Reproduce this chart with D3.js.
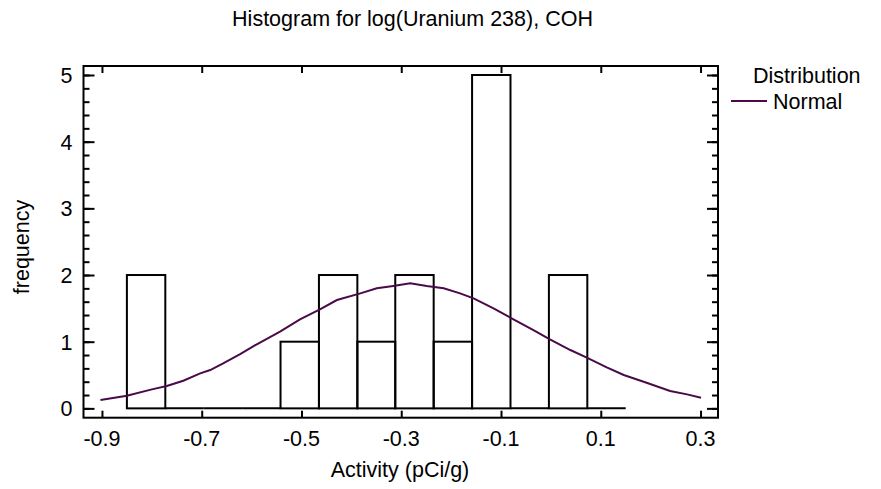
<!DOCTYPE html>
<html>
<head>
<meta charset="utf-8">
<script src="https://cdn.jsdelivr.net/npm/d3@7"></script>
<style>
  html, body { margin: 0; padding: 0; background: #fff; }
  svg { display: block; font-family: "Liberation Sans", Arial, sans-serif; }
</style>
</head>
<body>
<svg id="chart" width="881" height="489"></svg>
<script>
// ---- data ----
const binEdges = [-0.85, -0.773, -0.696, -0.619, -0.542, -0.465, -0.388, -0.312, -0.235, -0.158, -0.081, -0.004, 0.073, 0.15];
const binCounts = [2, 0, 0, 0, 1, 2, 1, 2, 1, 5, 0, 2, 0];
const curveX = [-0.903, -0.850, -0.800, -0.770, -0.737, -0.703, -0.683, -0.657, -0.623, -0.596, -0.543, -0.503, -0.463, -0.429, -0.382, -0.349, -0.316, -0.282, -0.249, -0.215, -0.182, -0.155, -0.115, -0.075, -0.035, -0.002, 0.039, 0.072, 0.112, 0.146, 0.186, 0.239, 0.273, 0.301];
const curveY = [0.125, 0.19, 0.285, 0.335, 0.415, 0.525, 0.575, 0.675, 0.815, 0.935, 1.15, 1.335, 1.485, 1.625, 1.725, 1.80, 1.835, 1.875, 1.835, 1.80, 1.725, 1.65, 1.50, 1.335, 1.175, 1.035, 0.875, 0.76, 0.615, 0.50, 0.40, 0.26, 0.21, 0.16];
const xTicks = [-0.9, -0.7, -0.5, -0.3, -0.1, 0.1, 0.3];
const yTicks = [0, 1, 2, 3, 4, 5];
const yMinorTicks = [0, 0.2, 0.4, 0.6, 0.8, 1, 1.2, 1.4, 1.6, 1.8, 2, 2.2, 2.4, 2.6, 2.8, 3, 3.2, 3.4, 3.6, 3.8, 4, 4.2, 4.4, 4.6, 4.8, 5];
const titleText = "Histogram for log(Uranium 238), COH";
const xLabel = "Activity (pCi/g)";
const yLabel = "frequency";
const legendTitle = "Distribution";
const legendItems = ["Normal"];

// ---- layout ----
const L = 83.5, R = 718, T = 66, B = 417.7;
const curveColor = "#4a0a4a";
const fontSize = 21.5;

const svg = d3.select("#chart");
const x = d3.scaleLinear().domain([-0.937, 0.335]).range([L, R]);
const y = d3.scaleLinear().domain([-0.14, 5.135]).range([B, T]);

// title
svg.append("text").attr("x", 412.5).attr("y", 26)
  .attr("text-anchor", "middle").attr("font-size", fontSize).text(titleText);

// bars
const bins = binCounts.map((c, i) => ({x0: binEdges[i], x1: binEdges[i + 1], c}));
const g = svg.append("g");
bins.forEach(b => {
  if (b.c > 0) {
    g.append("rect")
      .attr("x", x(b.x0)).attr("y", y(b.c))
      .attr("width", x(b.x1) - x(b.x0)).attr("height", y(0) - y(b.c))
      .attr("fill", "none").attr("stroke", "#000").attr("stroke-width", 2);
  } else {
    g.append("line")
      .attr("x1", x(b.x0)).attr("x2", x(b.x1))
      .attr("y1", y(0)).attr("y2", y(0))
      .attr("stroke", "#000").attr("stroke-width", 2);
  }
});

// curve
const pts = curveX.map((v, i) => [v, curveY[i]]);
svg.append("path").datum(pts)
  .attr("d", d3.line().x(d => x(d[0])).y(d => y(d[1])))
  .attr("fill", "none").attr("stroke", curveColor).attr("stroke-width", 2);

// axes (inward ticks) using d3 axes
const axB = d3.axisTop(x).tickValues(xTicks).tickSize(7).tickFormat("");
svg.append("g").attr("transform", `translate(0,${B})`).call(axB);
const axT = d3.axisBottom(x).tickValues(xTicks).tickSize(7).tickFormat("");
svg.append("g").attr("transform", `translate(0,${T})`).call(axT);
const axLmin = d3.axisRight(y).tickValues(yMinorTicks).tickSize(6).tickFormat("");
svg.append("g").attr("transform", `translate(${L},0)`).call(axLmin);
const axLmaj = d3.axisRight(y).tickValues(yTicks).tickSize(11).tickFormat("");
svg.append("g").attr("transform", `translate(${L},0)`).call(axLmaj);
const axRmin = d3.axisLeft(y).tickValues(yMinorTicks).tickSize(6).tickFormat("");
svg.append("g").attr("transform", `translate(${R},0)`).call(axRmin);
const axRmaj = d3.axisLeft(y).tickValues(yTicks).tickSize(11).tickFormat("");
svg.append("g").attr("transform", `translate(${R},0)`).call(axRmaj);
svg.selectAll(".domain").remove();
svg.selectAll(".tick line").attr("stroke", "#000").attr("stroke-width", 2);

// frame
svg.append("rect").attr("x", L).attr("y", T).attr("width", R - L).attr("height", B - T)
  .attr("fill", "none").attr("stroke", "#000").attr("stroke-width", 2);

// tick labels
svg.append("g").selectAll("text").data(xTicks).join("text")
  .attr("x", d => x(d)).attr("y", B + 28)
  .attr("text-anchor", "middle").attr("font-size", fontSize)
  .text(d => d3.format(".1f")(d).replace("−", "-"));
svg.append("g").selectAll("text").data(yTicks).join("text")
  .attr("x", L - 11).attr("y", d => y(d) + 8)
  .attr("text-anchor", "end").attr("font-size", fontSize)
  .text(d => d);

// axis titles
svg.append("text").attr("x", 400).attr("y", 477)
  .attr("text-anchor", "middle").attr("font-size", fontSize).text(xLabel);
svg.append("text").attr("transform", `translate(29,247) rotate(-90)`)
  .attr("text-anchor", "middle").attr("font-size", fontSize).text(yLabel);

// legend
svg.append("text").attr("x", 753).attr("y", 83).attr("font-size", fontSize).text(legendTitle);
legendItems.forEach((name, i) => {
  const ly = 101 + i * 24;
  svg.append("line").attr("x1", 731).attr("x2", 767).attr("y1", ly).attr("y2", ly)
    .attr("stroke", curveColor).attr("stroke-width", 2);
  svg.append("text").attr("x", 773).attr("y", ly + 8).attr("font-size", fontSize).text(name);
});
</script>
</body>
</html>
